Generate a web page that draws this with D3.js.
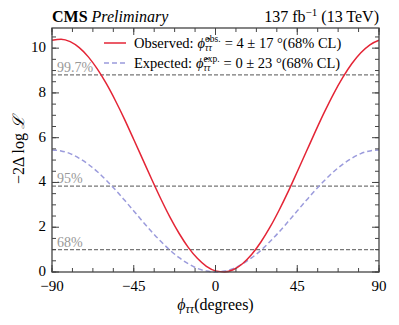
<!DOCTYPE html>
<html>
<head>
<meta charset="utf-8">
<script src="https://cdn.jsdelivr.net/npm/d3@7"></script>
<style>
  body { margin: 0; background: #fff; }
  svg { font-family: "Liberation Serif", "DejaVu Serif", serif; }
</style>
</head>
<body>
<div id="chart"></div>
<script>
// scan points (degrees) and -2ΔlogL values
const phi = [-90,-85,-80,-75,-70,-65,-60,-55,-50,-45,-40,-35,-30,-25,-20,-15,-10,-5,0,5,10,15,20,25,30,35,40,45,50,55,60,65,70,75,80,85,90];
const observed = [10.35,10.40,10.29,10.02,9.61,9.06,8.40,7.64,6.81,5.92,5.02,4.12,3.25,2.44,1.72,1.10,0.61,0.25,0.05,0.00,0.11,0.38,0.79,1.34,2.00,2.76,3.59,4.48,5.38,6.28,7.15,7.96,8.68,9.30,9.79,10.15,10.35];
const expected = [5.45,5.41,5.29,5.08,4.81,4.48,4.09,3.66,3.20,2.73,2.25,1.79,1.36,0.97,0.64,0.37,0.16,0.04,0.00,0.04,0.16,0.37,0.64,0.97,1.36,1.79,2.25,2.73,3.20,3.66,4.09,4.48,4.81,5.08,5.29,5.41,5.45];
const clLevels = [1.0, 3.84, 8.81];
const clLabels = ['68%', '95%', '99.7%'];
const xTicks = [-90, -45, 0, 45, 90];
const yTicks = [0, 2, 4, 6, 8, 10];

const width = 399, height = 325;
const margin = { top: 28, right: 20, bottom: 53, left: 52 };
const svg = d3.select('#chart').append('svg').attr('width', width).attr('height', height);

const x = d3.scaleLinear().domain([-90, 90]).range([margin.left, width - margin.right]);
const y = d3.scaleLinear().domain([0, 10.9]).range([height - margin.bottom, margin.top]);
const x0 = margin.left, x1 = width - margin.right, y0 = height - margin.bottom, y1 = margin.top;

const axisCol = '#444';

// CL lines
svg.selectAll('.cl').data(clLevels).enter().append('line')
  .attr('x1', x0).attr('x2', x1)
  .attr('y1', d => y(d)).attr('y2', d => y(d))
  .attr('stroke', '#777').attr('stroke-width', 1.3).attr('stroke-dasharray', '4,2');
svg.selectAll('.cllab').data(clLevels).enter().append('text')
  .attr('x', x0 + 5).attr('y', d => y(d) - 3)
  .attr('fill', '#999').attr('font-size', 14)
  .text((d, i) => clLabels[i]);

const line = d3.line().x((d, i) => x(phi[i])).y(d => y(d)).curve(d3.curveMonotoneX);

svg.append('path').datum(expected).attr('d', line)
  .attr('fill', 'none').attr('stroke', '#9b9bdc').attr('stroke-width', 1.5).attr('stroke-dasharray', '5,3');
svg.append('path').datum(observed).attr('d', line)
  .attr('fill', 'none').attr('stroke', '#e42536').attr('stroke-width', 1.5);

// axes with inward ticks
const xMinor = d3.range(-90, 90.01, 11.25);
const yMinor = d3.range(0, 10.9, 0.5);
function ticks(g, vals, len, horiz) {
  vals.forEach(v => {
    if (horiz) {
      g.append('line').attr('x1', x(v)).attr('x2', x(v)).attr('y1', y0).attr('y2', y0 - len).attr('stroke', axisCol);
      g.append('line').attr('x1', x(v)).attr('x2', x(v)).attr('y1', y1).attr('y2', y1 + len).attr('stroke', axisCol);
    } else {
      g.append('line').attr('y1', y(v)).attr('y2', y(v)).attr('x1', x0).attr('x2', x0 + len).attr('stroke', axisCol);
      g.append('line').attr('y1', y(v)).attr('y2', y(v)).attr('x1', x1).attr('x2', x1 - len).attr('stroke', axisCol);
    }
  });
}
const tg = svg.append('g').attr('stroke-width', 1);
ticks(tg, xMinor, 4, true);
ticks(tg, xTicks, 7, true);
ticks(tg, yMinor, 4, false);
ticks(tg, yTicks, 7, false);

svg.append('rect').attr('x', x0).attr('y', y1).attr('width', x1 - x0).attr('height', y0 - y1)
  .attr('fill', 'none').attr('stroke', axisCol).attr('stroke-width', 1.3);

const fmt = v => (v < 0 ? '\u2212' + Math.abs(v) : String(v));
svg.selectAll('.xl').data(xTicks).enter().append('text')
  .attr('x', d => x(d)).attr('y', y0 + 19).attr('text-anchor', 'middle').attr('font-size', 15)
  .text(fmt);
svg.selectAll('.yl').data(yTicks).enter().append('text')
  .attr('x', x0 - 6).attr('y', d => y(d) + 4).attr('text-anchor', 'end').attr('font-size', 15)
  .text(d => d);

// axis titles
const xt = svg.append('text').attr('x', x(0)).attr('y', 310).attr('text-anchor', 'middle').attr('font-size', 16);
xt.append('tspan').attr('font-style', 'italic').text('\u03d5');
xt.append('tspan').attr('font-style', 'italic').attr('font-size', 12).attr('dy', 3).text('\u03c4\u03c4');
xt.append('tspan').attr('dy', -3).text('(degrees)');

const yt = svg.append('text').attr('transform', `translate(24,${(y0 + y1) / 2}) rotate(-90)`)
  .attr('text-anchor', 'middle').attr('font-size', 16);
yt.append('tspan').text('\u22122\u0394 log ');
yt.append('tspan').attr('font-style', 'italic').text('\u2112');

// header
const hl = svg.append('text').attr('x', x0).attr('y', 22).attr('font-size', 16);
hl.append('tspan').attr('font-weight', 'bold').text('CMS');
hl.append('tspan').attr('font-style', 'italic').text(' Preliminary');
const hr = svg.append('text').attr('x', x1).attr('y', 22).attr('text-anchor', 'end').attr('font-size', 16);
hr.append('tspan').text('137 fb');
hr.append('tspan').attr('font-size', 11).attr('dy', -6).text('\u22121');
hr.append('tspan').attr('dy', 6).text(' (13 TeV)');

// legend, pieces placed one after another
const legend = [
  { label: 'Observed:', sup: 'obs.', val: '= 4 \u00b1 17 \u00b0(68% CL)', color: '#e42536', dash: null },
  { label: 'Expected:', sup: 'exp.', val: '= 0 \u00b1 23 \u00b0(68% CL)', color: '#9b9bdc', dash: '5,3' }
];
legend.forEach((d, i) => {
  const ly = 43 + i * 20;
  const base = ly + 5;
  svg.append('line').attr('x1', 104).attr('x2', 126).attr('y1', ly).attr('y2', ly)
    .attr('stroke', d.color).attr('stroke-width', 1.5).attr('stroke-dasharray', d.dash);
  let cx = 134;
  const t1 = svg.append('text').attr('x', cx).attr('y', base).attr('font-size', 14.5).text(d.label);
  cx += t1.node().getComputedTextLength() + 4;
  const t2 = svg.append('text').attr('x', cx).attr('y', base).attr('font-size', 14.5).attr('font-style', 'italic').text('\u03d5\u0302');
  cx += t2.node().getComputedTextLength();
  const sp = svg.append('text').attr('x', cx).attr('y', base - 6).attr('font-size', 9.5).text(d.sup);
  const sb = svg.append('text').attr('x', cx).attr('y', base + 3).attr('font-size', 9.5).attr('font-style', 'italic').text('\u03c4\u03c4');
  cx += Math.max(sp.node().getComputedTextLength(), sb.node().getComputedTextLength()) + 4;
  svg.append('text').attr('x', cx).attr('y', base).attr('font-size', 14.5).text(d.val);
});
</script>
</body>
</html>
